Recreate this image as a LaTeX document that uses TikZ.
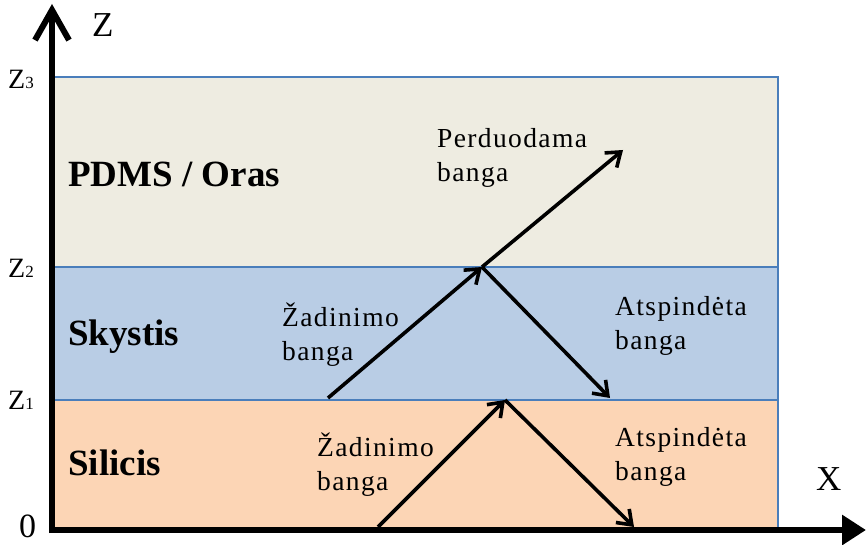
\documentclass[tikz,border=0pt]{standalone}
\usepackage{fontspec}
\setmainfont{Liberation Serif}
\usetikzlibrary{arrows.meta}

\definecolor{airfill}{HTML}{EEECE1}
\definecolor{liquidfill}{HTML}{B9CDE5}
\definecolor{siliconfill}{HTML}{FCD5B5}
\definecolor{edgeblue}{HTML}{4A7EBB}

\newfontfamily\wavefont[LetterSpace=5]{Liberation Serif}

\begin{document}
\begin{tikzpicture}[x=1pt,y=1pt,
  layerline/.style={draw=edgeblue,line width=2.6pt},
  axisline/.style={line width=6pt,draw=black},
  wave/.style={line width=3.6pt,-{Straight Barb[length=13pt,width=19pt]}},
  medium/.style={anchor=base west,inner sep=0pt,
    font=\fontsize{37}{40}\selectfont\bfseries},
  wavelabel/.style={anchor=base west,inner sep=0pt,align=left,
    font=\wavefont\fontsize{27.5}{34}\selectfont},
  levellabel/.style={anchor=base west,inner sep=0pt,
    font=\fontsize{28}{30}\selectfont},
  axislabel/.style={anchor=base west,inner sep=0pt,
    font=\fontsize{35}{38}\selectfont}]

\useasboundingbox (0,0) rectangle (867,544);

% layers
\fill[siliconfill] (52,16) rectangle (778,144);
\fill[liquidfill]  (52,144) rectangle (778,277);
\fill[airfill]     (52,277) rectangle (778,467);
\draw[layerline] (52,144) -- (778,144);
\draw[layerline] (52,277) -- (778,277);
\draw[layerline] (52,467) -- (778,467) -- (778,16);

% axes
\coordinate (origin) at (52,14);
\coordinate (ztip) at (52,540);
\coordinate (xtip) at (866,14);
\draw[axisline,-{Straight Barb[length=30pt,width=34pt]}] ([yshift=-3pt]origin) -- (ztip);
\draw[axisline,-{Triangle[length=24pt,width=29pt]}] ([xshift=-3pt]origin) -- (xtip);

% axis and level labels
\node[axislabel] (zname) at (92,507) {Z};
\node[axislabel] (xname) at (816,54) {X};
\node[axislabel,font=\fontsize{34}{36}\selectfont] (lvl0) at (19,7) {0};
\node[levellabel] (lvl1) at (8,135) {Z{\fontsize{17}{17}\selectfont 1}};
\node[levellabel] (lvl2) at (8,266) {Z{\fontsize{17}{17}\selectfont 2}};
\node[levellabel] (lvl3) at (8,455) {Z{\fontsize{17}{17}\selectfont 3}};

% media
\node[medium] (air) at (68,357) {PDMS / Oras};
\node[medium] (liquid) at (68,199) {Skystis};
\node[medium] (silicon) at (68,69) {Silicis};

% wave paths
\coordinate (s0) at (378,17);
\coordinate (s1) at (505,144);
\coordinate (s2) at (634,17);
\coordinate (l0) at (328,146);
\coordinate (l1) at (482,277);
\coordinate (l2) at (610,146);
\coordinate (t1) at (623,394);
\draw[wave] (s0) -- (s1);
\draw[wave] (s1) -- (s2);
\draw[wave] (l0) -- (l1);
\draw[wave] (l1) -- (l2);
\draw[wave] (l1) -- (t1);

% wave labels (base anchor sits on the second line)
\node[wavelabel] (transmitted) at (437,362) {Perduodama\\banga};
\node[wavelabel] (liqexcite) at (282,184) {Žadinimo\\banga};
\node[wavelabel] (liqreflect) at (615,194) {Atspindėta\\banga};
\node[wavelabel] (siexcite) at (317,54) {Žadinimo\\banga};
\node[wavelabel] (sireflect) at (615,64) {Atspindėta\\banga};
\end{tikzpicture}
\end{document}
